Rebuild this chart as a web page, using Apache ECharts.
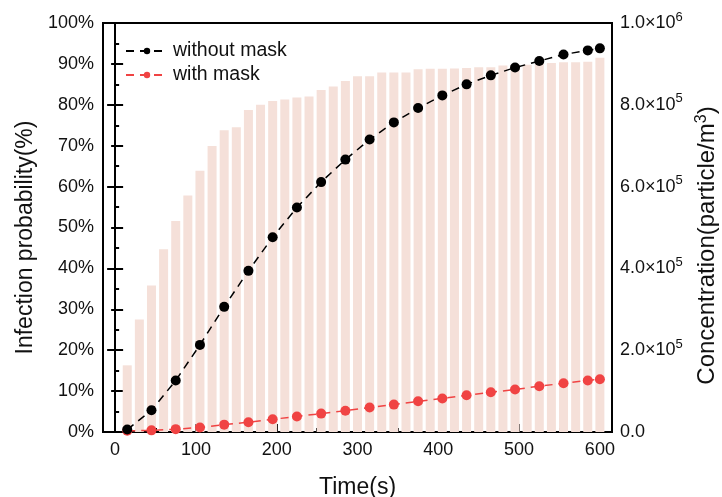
<!DOCTYPE html>
<html>
<head>
<meta charset="utf-8">
<script src="https://cdn.jsdelivr.net/npm/echarts@6/dist/echarts.min.js"></script>
<style>
html,body{margin:0;padding:0;background:#fff;}
#chart{width:722px;height:497px;}
</style>
</head>
<body>
<div id="chart"></div>
<script>
var barTimes = [15,30,45,60,75,90,105,120,135,150,165,180,195,210,225,240,255,270,285,300,315,330,345,360,375,390,405,420,435,450,465,480,495,510,525,540,555,570,585,600];
var concentration = [163000,275000,358000,447000,516000,578000,639000,699000,738000,745000,787000,800000,809000,813000,818000,820000,836000,845000,858000,870000,870000,879000,879000,879000,887000,888000,888000,889000,890000,892000,892000,896000,898000,898000,903000,902000,904000,904000,905000,915000];
var pointTimes = [15,45,75,105,135,165,195,225,255,285,315,345,375,405,435,465,495,525,555,585,600];
var withoutMask = [0.6,5.3,12.6,21.3,30.6,39.4,47.6,54.9,61.1,66.6,71.5,75.7,79.2,82.3,85.0,87.2,89.1,90.7,92.3,93.3,93.8];
var withMask = [0.3,0.4,0.7,1.1,1.8,2.4,3.1,3.8,4.5,5.2,6.0,6.7,7.5,8.2,9.0,9.7,10.4,11.2,11.9,12.6,12.9];
var xMajorTicks = [0,100,200,300,400,500,600];
var xMinorTicks = [50,150,250,350,450,550];
var rightTickLabels = {0:'0.0', 200000:'2.0×10|5', 400000:'4.0×10|5', 600000:'6.0×10|5', 800000:'8.0×10|5', 1000000:'1.0×10|6'};

function zip(a,b){var r=[];for(var i=0;i<a.length;i++){r.push([a[i],b[i]]);}return r;}

var FONT = '"Liberation Sans", Arial, sans-serif';
var chart = echarts.init(document.getElementById('chart'), null, {renderer:'canvas'});
var option = {
  animation:false,
  textStyle:{fontFamily:FONT},
  grid:{left:103,right:110,top:23,bottom:65,show:true,borderColor:'#000',borderWidth:2,backgroundColor:'transparent',containLabel:false,outerBoundsMode:'none'},
  legend:{
    orient:'vertical', left:120, top:36, itemWidth:42, itemHeight:8, itemGap:4,
    textStyle:{fontFamily:FONT,fontSize:19.5,color:'#111'},
    data:['without mask','with mask']
  },
  xAxis:[{
    type:'value', min:-15, max:615, position:'bottom',
    name:'Time(s)', nameLocation:'middle', nameGap:44,
    nameTextStyle:{fontFamily:FONT,fontSize:23,color:'#111'},
    axisLine:{show:true,onZero:false,lineStyle:{color:'#000',width:2}},
    axisTick:{show:true,inside:true,length:8,lineStyle:{color:'#000',width:2},customValues:xMajorTicks},
    axisLabel:{show:true,margin:9,fontFamily:FONT,fontSize:18,color:'#111',customValues:xMajorTicks},
    splitLine:{show:false}
  },{
    type:'value', min:-15, max:615, position:'bottom', offset:0,
    axisLine:{show:false},
    axisTick:{show:true,inside:true,length:4,lineStyle:{color:'#000',width:2},customValues:xMinorTicks},
    axisLabel:{show:false},
    splitLine:{show:false}
  }],
  yAxis:[{
    type:'value', min:0, max:100, interval:10, position:'left',
    name:'Infection probability(%)', nameLocation:'middle', nameGap:56,
    nameTextStyle:{fontFamily:FONT,fontSize:23,color:'#111',padding:[0,20,0,0]},
    axisLine:{show:true,lineStyle:{color:'#000',width:2}},
    axisTick:{show:true,inside:true,length:8,lineStyle:{color:'#000',width:2}},
    minorTick:{show:true,splitNumber:2,length:4,lineStyle:{color:'#000',width:2}},
    axisLabel:{margin:9,fontFamily:FONT,fontSize:18,color:'#111',formatter:function(v){return v+'%';}},
    splitLine:{show:false}
  },{
    type:'value', min:0, max:1000000, interval:200000, position:'right',
    name:'{a|Concentration(particle/m}{s|3}{a|)}', nameLocation:'middle', nameGap:81, nameRotate:90,
    nameTextStyle:{fontFamily:FONT,fontSize:24,color:'#111',padding:[0,36,0,0],
      rich:{
        a:{fontFamily:FONT,fontSize:24,color:'#111'},
        s:{fontFamily:FONT,fontSize:16,color:'#111',padding:[0,0,12,0]}
      }
    },
    axisLine:{show:true,lineStyle:{color:'#000',width:2}},
    axisTick:{show:true,inside:true,length:8,lineStyle:{color:'#000',width:2}},
    minorTick:{show:true,splitNumber:2,length:4,lineStyle:{color:'#000',width:2}},
    axisLabel:{margin:8,fontFamily:FONT,fontSize:18,color:'#111',
      formatter:function(v){
        var s = rightTickLabels[v];
        if(s===undefined) return '';
        var p = s.split('|');
        if(p.length===1) return '{a|'+p[0]+'}';
        return '{a|'+p[0]+'}{s|'+p[1]+'}';
      },
      rich:{
        a:{fontFamily:FONT,fontSize:18,color:'#111'},
        s:{fontFamily:FONT,fontSize:13,color:'#111',padding:[0,0,12,0]}
      }
    },
    splitLine:{show:false}
  }],
  series:[{
    name:'concentration', type:'bar', xAxisIndex:0, yAxisIndex:1,
    barWidth:9, data:zip(barTimes,concentration),
    itemStyle:{color:'#f5e0d9'}, z:1
  },{
    name:'without mask', type:'line', xAxisIndex:0, yAxisIndex:0,
    data:zip(pointTimes,withoutMask),
    symbol:'circle', symbolSize:10,
    lineStyle:{color:'#000',width:1.5,type:[8,6]},
    itemStyle:{color:'#000'}, z:3
  },{
    name:'with mask', type:'line', xAxisIndex:0, yAxisIndex:0,
    data:zip(pointTimes,withMask),
    symbol:'circle', symbolSize:10,
    lineStyle:{color:'#f04343',width:1.5,type:[8,6]},
    itemStyle:{color:'#f04343'}, z:2
  }]
};
chart.setOption(option);
</script>
</body>
</html>
